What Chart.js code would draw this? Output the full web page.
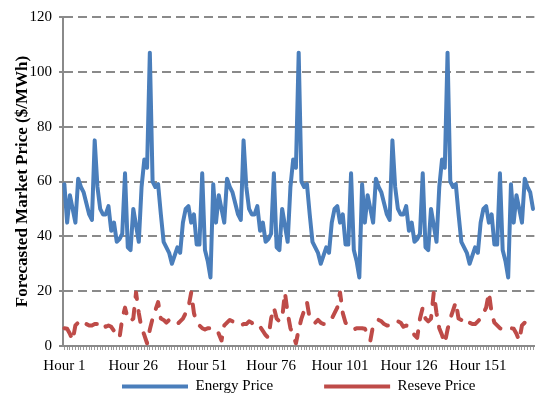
<!DOCTYPE html>
<html><head><meta charset="utf-8">
<script src="https://cdn.jsdelivr.net/npm/chart.js@4.4.1/dist/chart.umd.min.js"></script>
<style>html,body{margin:0;padding:0;background:#fff;}#wrap{width:540px;height:393px;}</style>
</head><body><div id="wrap"><canvas id="c" width="540" height="393"></canvas></div>
<script>
// ---- data ----
const hours = Array.from({length: 171}, (_, i) => 'Hour ' + (i + 1));
const labelEvery = 25;
const yTickValues = [0, 20, 40, 60, 80, 100, 120];

const energyPrice = [
  59,45,55,50,45,61,58,56,52,48,46,75,58,50,48,48,51,42,45,38,39,41,63,36,35,50,44,38,58,68,65,107,60,58,59,48,38,36,34,30,33,36,34,45,50,51,45,48,37,37,63,35,31,25,
  59,45,55,50,45,61,58,56,52,48,46,75,58,50,48,48,51,42,45,38,39,41,63,36,35,50,44,38,58,68,65,107,60,58,59,48,38,36,34,30,33,36,34,45,50,51,45,48,37,37,63,35,31,25,
  59,45,55,50,45,61,58,56,52,48,46,75,58,50,48,48,51,42,45,38,39,41,63,36,35,50,44,38,58,68,65,107,60,58,59,48,38,36,34,30,33,36,34,45,50,51,45,48,37,37,63,35,31,25,
  59,45,55,50,45,61,58,56,50
];
const reservePrice = [
  6.5,6.3,4.5,2,7.5,8.5,9.5,9,8,7.5,7.5,8,8,9,8.5,7,7.5,7,5.5,4,3,10,14,10,9,10,19.5,12,6.5,4,1,6,10,13,16,10,9.5,8.5,9.5,8.5,8,8,9,10,12,14,19.5,12,8.5,7.5,6.5,6,6.5,6.5,
  6.5,6.3,4.5,2,7.5,8.5,9.5,9,8,7.5,7.5,8,8,9,8.5,7,7.5,7,5.5,4,3,10,14,10,9,10,19.5,12,6.5,4,1,6,10,13,16,10,9.5,8.5,9.5,8.5,8,8,9,10,12,14,19.5,12,8.5,7.5,6.5,6,6.5,6.5,
  6.5,6.3,4.5,2,7.5,8.5,9.5,9,8,7.5,7.5,8,8,9,8.5,7,7.5,7,5.5,4,3,10,14,10,9,10,19.5,12,6.5,4,1,6,10,13,16,10,9.5,8.5,9.5,8.5,8,8,9,10,12,14,19.5,12,8.5,7.5,6.5,6,6.5,6.5,
  6.5,6.3,4.5,2,7.5,8.5,9.5,9,8
];
const seriesNames = ['Energy Price', 'Reseve Price'];
const yTitle = 'Forecasted Market Price ($/MWh)';

// ---- style ----
const FONT = '"Liberation Serif", "Times New Roman", serif';
const GRID = '#8a8a8a';

const legendPlace = {
  id: 'legendPlace',
  beforeDraw(chart) {
    const lg = chart.legend;
    if (!lg || !lg.lineWidths) return;
    const P = lg.options.labels.padding;
    const w = chart.width;
    const natural = (P + w - lg.lineWidths[0]) / 2;
    const shift = 122 - natural;
    lg.left = shift; lg.right = w + shift;
    lg.top = 379 - P; lg.bottom = chart.height;
  }
};

new Chart(document.getElementById('c'), {
  type: 'line',
  data: {
    labels: hours,
    datasets: [
      { label: seriesNames[0], data: energyPrice, borderColor: '#4a7ebb', backgroundColor: '#4a7ebb',
        borderWidth: 4, pointRadius: 0, tension: 0, borderJoinStyle: 'round', borderCapStyle: 'round' },
      { label: seriesNames[1], data: reservePrice, borderColor: '#be4b48', backgroundColor: '#be4b48',
        borderWidth: 4, pointRadius: 0, tension: 0, borderDash: [11, 12], borderJoinStyle: 'round', borderCapStyle: 'round' }
    ]
  },
  options: {
    responsive: false,
    animation: false,
    devicePixelRatio: 1,
    layout: { padding: { top: 17, right: 0, bottom: 0, left: 0 } },
    plugins: {
      tooltip: { enabled: false },
      legend: {
        position: 'bottom',
        maxHeight: 17,
        labels: { usePointStyle: true, pointStyle: 'line', pointStyleWidth: 66, padding: 51,
                  color: '#000', font: { family: FONT, size: 15 } }
      }
    },
    scales: {
      x: {
        type: 'category',
        offset: true,
        grid: { display: true, drawOnChartArea: false, drawTicks: true, tickLength: 4, color: '#9a9a9a', lineWidth: 1 },
        border: { display: true, color: GRID, width: 2 },
        ticks: {
          autoSkip: false, maxRotation: 0, minRotation: 0, padding: 7,
          color: '#000', font: { family: FONT, size: 15 },
          callback: function (v, i) { return i % labelEvery === 0 ? this.getLabelForValue(v) : ''; }
        },
        afterFit: (s) => { s.height = 30; }
      },
      y: {
        min: 0, max: 120,
        afterBuildTicks: (s) => { s.ticks = yTickValues.map(v => ({ value: v })); },
        grid: { color: GRID, lineWidth: 2, tickLength: 4 },
        border: { display: true, color: GRID, width: 2, dash: [9, 5] },
        ticks: { color: '#000', padding: 7, font: { family: FONT, size: 15 } },
        title: { display: true, text: yTitle, color: '#000', padding: { top: 12, bottom: 0 },
                 font: { family: FONT, size: 17, weight: 'bold' } },
        afterFit: (s) => { s.width = 63; }
      }
    }
  },
  plugins: [legendPlace]
});
</script>
</body></html>
